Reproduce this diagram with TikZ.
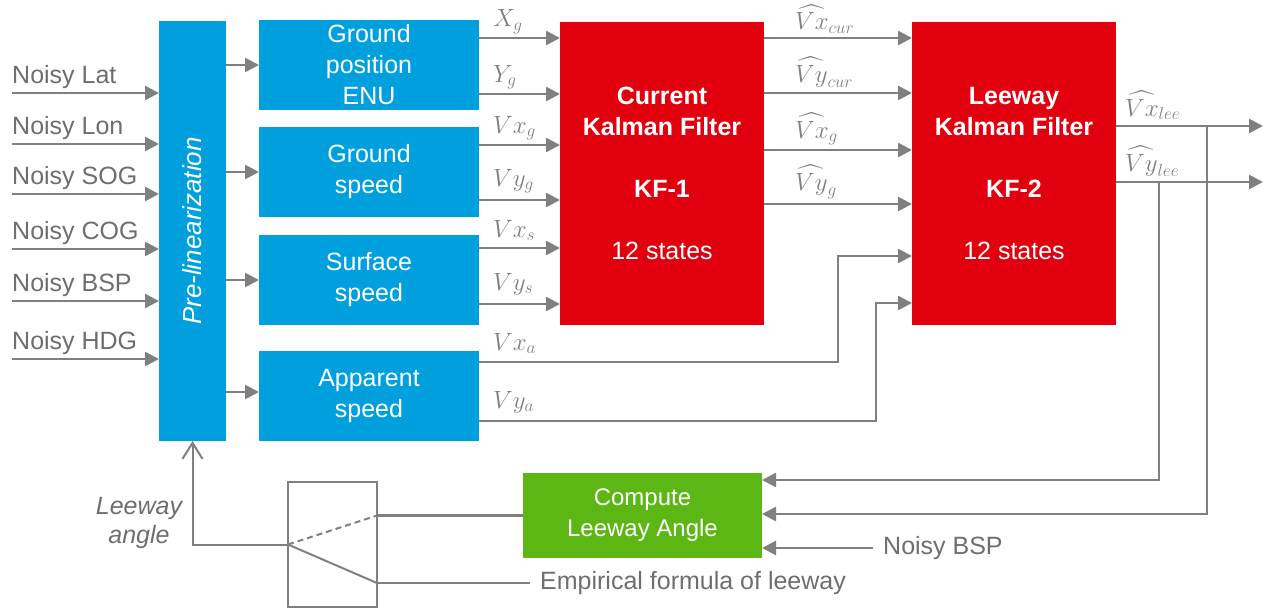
\documentclass[tikz,border=0pt]{standalone}
\usepackage{fontspec}
\setmainfont{Liberation Sans}
\usepackage{amsmath}
\usetikzlibrary{positioning, arrows.meta, calc}
\definecolor{kfred}{RGB}{226,0,14}
\definecolor{boxblue}{RGB}{0,160,222}
\definecolor{lagreen}{RGB}{92,182,20}
\definecolor{wire}{RGB}{128,128,128}
\definecolor{txtgray}{RGB}{110,110,110}
\tikzstyle{blk} = [rectangle, inner sep=0pt, outer sep=0pt, align=center,
                   text=white, font=\fontsize{25}{31}\selectfont]
\tikzstyle{arr} = [-{Triangle[length=14pt,width=14pt]}, line width=2.6pt, draw=wire]

\begin{document}
\begin{tikzpicture}[x=1pt, y=-1pt,
  bbox/.style={blk, fill=boxblue, minimum width=220pt, minimum height=90pt},
  kf/.style={blk, fill=kfred, minimum width=204pt, minimum height=303pt},
  inlbl/.style={anchor=base west, inner sep=0pt, text=txtgray, font=\fontsize{25}{30}\selectfont},
  mlbl/.style={anchor=base west, inner sep=0pt, text=wire, font=\fontsize{24}{30}\selectfont},
  wirel/.style={line width=2.4pt, draw=wire},
  thinw/.style={line width=2pt, draw=wire}]
\useasboundingbox (0,0) rectangle (1269,610);

% blocks
\node[blk, fill=boxblue, minimum width=67pt, minimum height=420pt] (prelin) at (192.5,231) {};
\node[rotate=90, text=white, font=\fontsize{26}{30}\selectfont\itshape] (prelintxt) at (prelin) {Pre-linearization};
\node[bbox] (gpos) at (369,65) {Ground\\position\\ENU};
\node[bbox] (gspd) at (369,172) {Ground\\speed};
\node[bbox] (sspd) at (369,280) {Surface\\speed};
\node[bbox] (aspd) at (369,396) {Apparent\\speed};
\node[kf] (kf1) at (662,173.5) {\textbf{Current}\\\textbf{Kalman Filter}\\[31pt]\textbf{KF-1}\\[31pt]12 states};
\node[kf] (kf2) at (1014,173.5) {\textbf{Leeway}\\\textbf{Kalman Filter}\\[31pt]\textbf{KF-2}\\[31pt]12 states};
\node[blk, fill=lagreen, minimum width=239pt, minimum height=85pt, font=\fontsize{24}{31}\selectfont] (cla) at (642.5,515.5) {Compute\\Leeway Angle};
\node[rectangle, thinw, minimum width=89pt, minimum height=125pt, inner sep=0pt, outer sep=0pt] (sw) at (332.5,544.5) {};

% inputs
\coordinate (cLat) at (12,93); \coordinate (cLon) at (12,144); \coordinate (cSOG) at (12,194);
\coordinate (cCOG) at (12,249); \coordinate (cBSP) at (12,301); \coordinate (cHDG) at (12,359);
\node[inlbl] (tLat) at (12,83) {Noisy Lat};
\node[inlbl] (tLon) at (12,134) {Noisy Lon};
\node[inlbl] (tSOG) at (12,184) {Noisy SOG};
\node[inlbl] (tCOG) at (12,239) {Noisy COG};
\node[inlbl] (tBSP) at (12,291) {Noisy BSP};
\node[inlbl] (tHDG) at (12,349) {Noisy HDG};
\draw[arr] (cLat) -- (cLat -| prelin.west); \draw[arr] (cLon) -- (cLon -| prelin.west);
\draw[arr] (cSOG) -- (cSOG -| prelin.west); \draw[arr] (cCOG) -- (cCOG -| prelin.west);
\draw[arr] (cBSP) -- (cBSP -| prelin.west); \draw[arr] (cHDG) -- (cHDG -| prelin.west);

\draw[arr] (prelin.east |- gpos) -- (gpos); \draw[arr] (prelin.east |- gspd) -- (gspd);
\draw[arr] (prelin.east |- sspd) -- (sspd); \draw[arr] (prelin.east |- 0,392) -- (aspd.west |- 0,392);

% into KF-1
\draw[arr] (gpos.east |- 0,38) -- (kf1.west |- 0,38);   \node[mlbl] (lXg) at (493,27) {$X_g$};
\draw[arr] (gpos.east |- 0,94) -- (kf1.west |- 0,94);   \node[mlbl] (lYg) at (493,82) {$Y_g$};
\draw[arr] (gspd.east |- 0,145) -- (kf1.west |- 0,145); \node[mlbl] (lVxg) at (493,133) {$Vx_g$};
\draw[arr] (gspd.east |- 0,200) -- (kf1.west |- 0,200); \node[mlbl] (lVyg) at (493,186) {$Vy_g$};
\draw[arr] (sspd.east |- 0,248) -- (kf1.west |- 0,248); \node[mlbl] (lVxs) at (493,237) {$Vx_s$};
\draw[arr] (sspd.east |- 0,304) -- (kf1.west |- 0,304); \node[mlbl] (lVys) at (493,290) {$Vy_s$};

% KF-1 to KF-2
\draw[arr] (kf1.east |- 0,38) -- (kf2.west |- 0,38);   \node[mlbl] (lVxc) at (795,30) {$\widehat{Vx}_{cur}$};
\draw[arr] (kf1.east |- 0,93) -- (kf2.west |- 0,93);   \node[mlbl] (lVyc) at (795,82) {$\widehat{Vy}_{cur}$};
\draw[arr] (kf1.east |- 0,150) -- (kf2.west |- 0,150); \node[mlbl] (lVxgh) at (795,138) {$\widehat{Vx}_g$};
\draw[arr] (kf1.east |- 0,204) -- (kf2.west |- 0,204); \node[mlbl] (lVygh) at (795,190) {$\widehat{Vy}_g$};

% apparent speed to KF-2
\draw[arr] (aspd.east |- 0,362) -| (838,256) -- (kf2.west |- 0,256); \node[mlbl] (lVxa) at (493,350) {$Vx_a$};
\draw[arr] (aspd.east |- 0,421) -| (876,303) -- (kf2.west |- 0,303); \node[mlbl] (lVya) at (493,408) {$Vy_a$};

% KF-2 outputs
\coordinate (outVx) at (1263,126); \coordinate (outVy) at (1263,182);
\coordinate (tapVx) at (1207,126); \coordinate (tapVy) at (1159,182);
\draw[arr] (kf2.east |- outVx) -- (outVx); \node[mlbl] (lVxl) at (1125,116) {$\widehat{Vx}_{lee}$};
\draw[arr] (kf2.east |- outVy) -- (outVy); \node[mlbl] (lVyl) at (1125,171) {$\widehat{Vy}_{lee}$};
\draw[arr] (tapVy) |- (cla.east |- 0,480);
\draw[arr] (tapVx) |- (cla.east |- 0,514);
\node[anchor=west, inner xsep=10pt, inner ysep=0pt, text=txtgray, font=\fontsize{25}{30}\selectfont] (nbsp) at (873,548) {Noisy BSP};
\draw[arr] (nbsp.west) -- (nbsp.west -| cla.east);

% leeway angle switch
\node[anchor=west, inner xsep=10pt, inner ysep=0pt, text=txtgray, font=\fontsize{25}{30}\selectfont] (emp) at (530,583) {Empirical formula of leeway};
\draw[wirel] (cla.west) -- (cla.west -| sw.east);
\draw[wirel] (emp.west) -- (emp.west -| sw.east);
\draw[thinw, dash pattern=on 6pt off 4pt] (sw.west) -- (sw.east |- cla.west);
\draw[thinw] (sw.west) -- (sw.east |- emp.west);
\draw[thinw, -{Straight Barb[length=16pt,width=20pt]}] (sw.west) -| (prelin.south);
\node[align=center, inner sep=0pt, text=txtgray, font=\fontsize{25}{29}\selectfont\itshape] (lang) at (139,523) {Leeway\\angle};
\end{tikzpicture}
\end{document}
